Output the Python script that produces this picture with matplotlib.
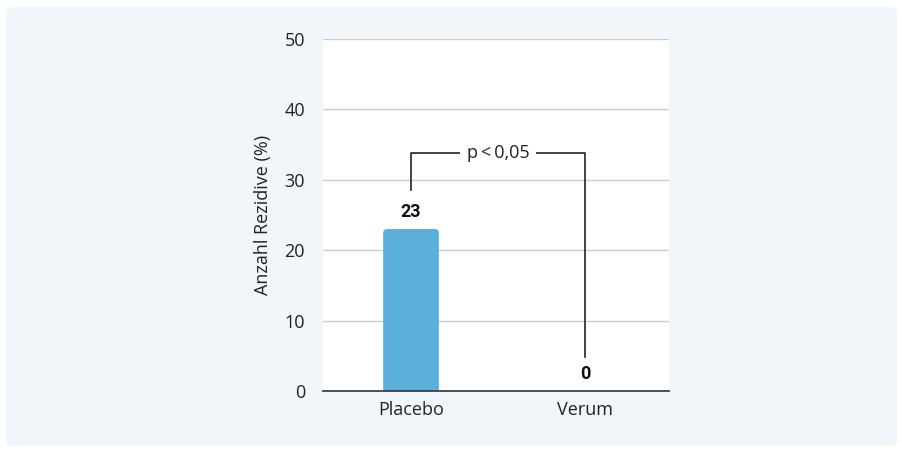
import matplotlib.pyplot as plt
from matplotlib.patches import FancyBboxPatch

categories = ['Placebo', 'Verum']
values = [23, 0]
yticks = [0, 10, 20, 30, 40, 50]
p_label = 'p\u2009<\u20090,05'

plt.rcParams['font.family'] = ['Open Sans', 'DejaVu Sans']

fig = plt.figure(figsize=(9.03, 4.5), dpi=100)
fig.patch.set_facecolor('white')
bg = FancyBboxPatch((6 / 903, 4 / 450), 891 / 903, 439 / 450,
                    boxstyle='round,pad=0,rounding_size=0.01',
                    transform=fig.transFigure, facecolor='#f1f6fb',
                    edgecolor='none', zorder=-10)
fig.add_artist(bg)

ax = fig.add_axes([323 / 903, 1 - 391 / 450, 346 / 903, 352 / 450])
ax.set_facecolor('white')
x = list(range(len(categories)))
bars = ax.bar(x, values, width=0.32, color='#5aafdb', zorder=3)

# rounded top corners
aspect = (50 / 352) / (1.989 / 346)
for b in bars:
    if b.get_height() <= 0:
        continue
    b.set_visible(False)
    rp = FancyBboxPatch((b.get_x(), -3), b.get_width(), b.get_height() + 3,
                        boxstyle='round,pad=0,rounding_size=0.022',
                        mutation_aspect=aspect, facecolor='#5aafdb',
                        edgecolor='none', zorder=3)
    ax.add_patch(rp)

ax.set_xlim(-0.506, 1.483)
ax.set_ylim(0, 50)
ax.set_yticks(yticks)
ax.set_xticks(x)
ax.set_xticklabels(categories)
ax.tick_params(length=0, labelsize=13, colors='#222222', pad=7)
ax.tick_params(axis='y', pad=13)
ax.yaxis.grid(True, color='#cccccc', linewidth=1)
ax.set_axisbelow(True)
for s in ['top', 'right', 'left']:
    ax.spines[s].set_visible(False)
ax.spines['bottom'].set_color('#333333')
ax.spines['bottom'].set_linewidth(1.2)
ax.spines['bottom'].set_zorder(4)
ax.set_ylabel('Anzahl Rezidive (%)', fontsize=13, color='#222222', labelpad=9)

for xi, v in zip(x, values):
    ax.text(xi, v + 1.1, str(v), ha='center', va='bottom', fontsize=13,
            fontweight='bold', family=['Roboto', 'DejaVu Sans'], color='#111111')

# significance bracket
ax.plot([0, 0, 1, 1], [28.5, 33.8, 33.8, 4.8], color='#222222', lw=1.2, zorder=4)
ax.text(0.5, 33.8, p_label, ha='center', va='center', fontsize=13, color='#222222',
        bbox=dict(facecolor='white', edgecolor='none', pad=5), zorder=5)

fig.savefig('out.png', dpi=100)
